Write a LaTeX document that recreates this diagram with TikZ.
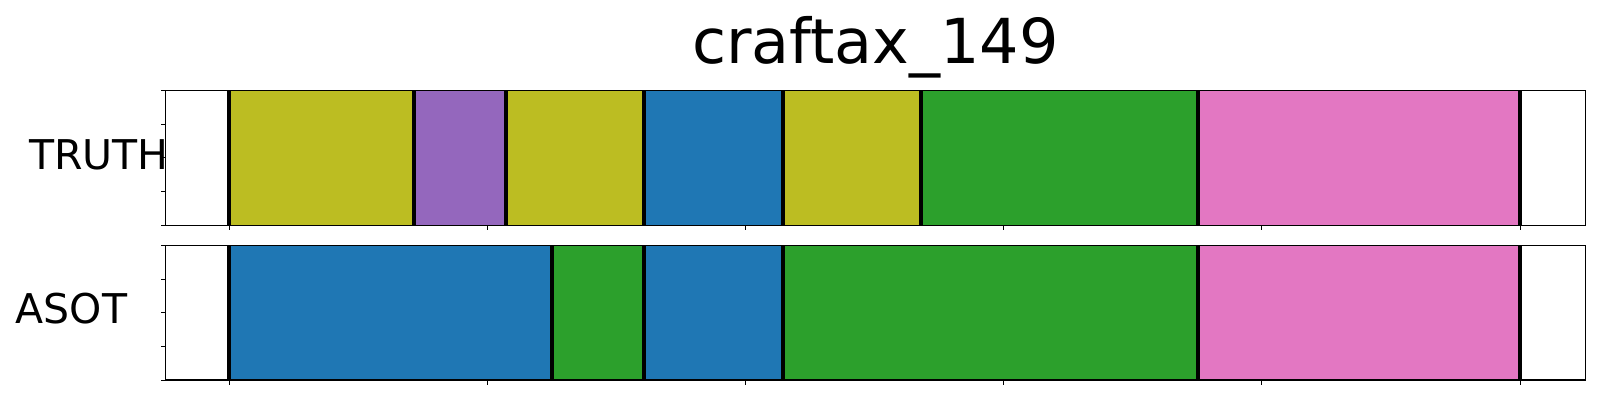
\documentclass[tikz,border=0pt]{standalone}
\usepackage{fontspec}
\setmainfont{DejaVu Sans}
\definecolor{tabolive}{HTML}{BCBD22}
\definecolor{tabpurple}{HTML}{9467BD}
\definecolor{tabblue}{HTML}{1F77B4}
\definecolor{tabgreen}{HTML}{2CA02C}
\definecolor{tabpink}{HTML}{E377C2}
\tikzset{
  seg/.style={fill=#1, draw=none},
  bound/.style={line width=4.3pt, draw=black},
  frame/.style={line width=1.1pt, draw=black},
  tickmark/.style={line width=0.9pt, draw=black},
  titletext/.style={font=\fontsize{62}{62}\selectfont, inner sep=0pt},
  labeltext/.style={font=\fontsize{41}{41}\selectfont, inner sep=0pt, anchor=base west},
}
\begin{document}
\begin{tikzpicture}[x=1pt,y=-1pt]
\useasboundingbox (0,0) rectangle (1600,400);
% title
\node[titletext, anchor=base] (title) at (875.5,63.3) {craftax\_149};
% row labels
\node[labeltext] (truth) at (29,169.3) {TRUTH};
\node[labeltext] (asot) at (15.7,323.3) {ASOT};
% top row segments
\def\ta{90.3}\def\tb{225.3}
\fill[seg=tabolive] (229,\ta) rectangle (414,\tb);
\fill[seg=tabpurple] (414,\ta) rectangle (506,\tb);
\fill[seg=tabolive] (506,\ta) rectangle (644,\tb);
\fill[seg=tabblue] (644,\ta) rectangle (783,\tb);
\fill[seg=tabolive] (783,\ta) rectangle (921,\tb);
\fill[seg=tabgreen] (921,\ta) rectangle (1198,\tb);
\fill[seg=tabpink] (1198,\ta) rectangle (1520,\tb);
\foreach \x in {229,414,506,644,783,921,1198,1520}
  \draw[bound] (\x,\ta) -- (\x,\tb);
% bottom row segments
\def\ba{245.3}\def\bb{380}
\fill[seg=tabblue] (229,\ba) rectangle (552,\bb);
\fill[seg=tabgreen] (552,\ba) rectangle (644,\bb);
\fill[seg=tabblue] (644,\ba) rectangle (783,\bb);
\fill[seg=tabgreen] (783,\ba) rectangle (1198,\bb);
\fill[seg=tabpink] (1198,\ba) rectangle (1520,\bb);
\foreach \x in {229,552,644,783,1198,1520}
  \draw[bound] (\x,\ba) -- (\x,\bb);
% frames
\draw[frame] (165.7,\ta) rectangle (1585.3,\tb);
\draw[frame] (165.7,\ba) rectangle (1585.3,\bb);
% ticks
\foreach \i in {0,1,2,3,4} {
  \draw[tickmark] (161,{\ta+\i*33.75}) -- (165.7,{\ta+\i*33.75});
  \draw[tickmark] (161,{\ba+\i*33.675}) -- (165.7,{\ba+\i*33.675});
}
\foreach \x in {229,487.2,745.4,1003.6,1261.8,1520} {
  \draw[tickmark] (\x,\tb) -- (\x,{\tb+4.7});
  \draw[tickmark] (\x,\bb) -- (\x,{\bb+4.7});
}
\end{tikzpicture}
\end{document}
